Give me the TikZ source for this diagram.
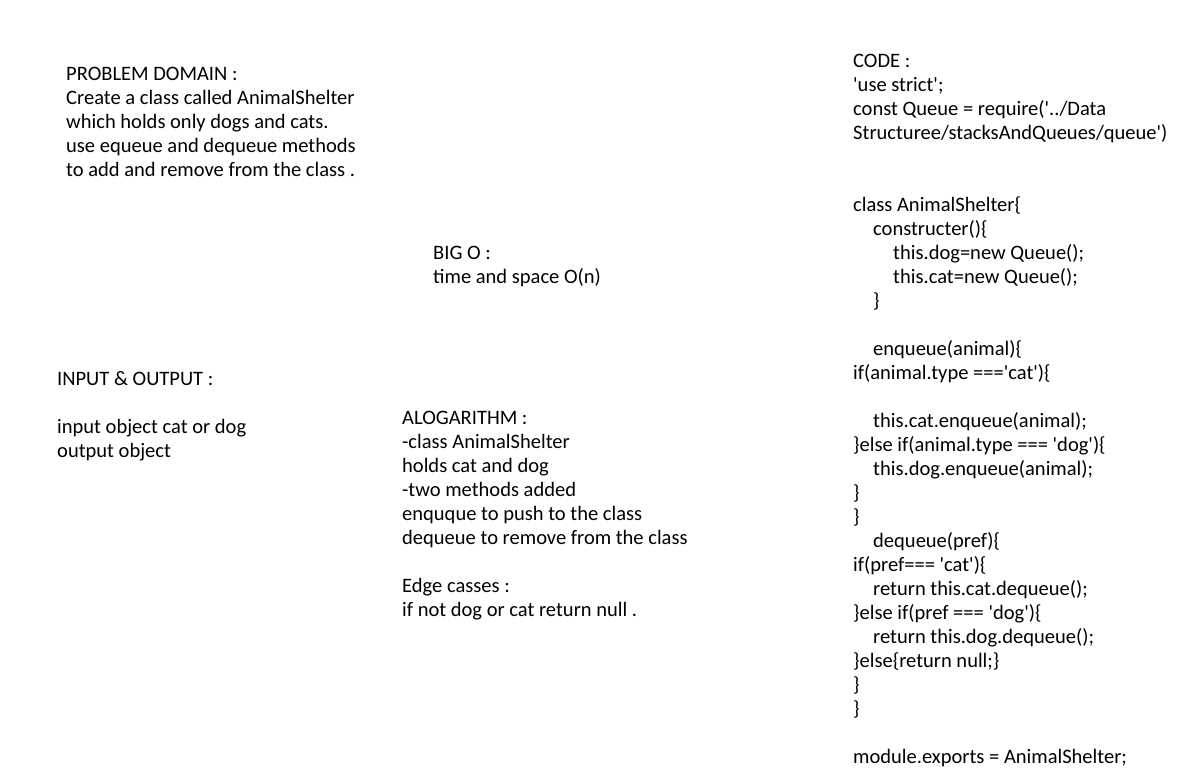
\documentclass[tikz,border=0pt]{standalone}
\usepackage{fontspec}
\setmainfont{Carlito}[Ligatures=TeXOff]
\newcommand{\ind}{\hspace*{20bp}}

\begin{document}
\begin{tikzpicture}[x=1bp,y=-1bp]
\tikzset{textblock/.style={anchor=north west,inner sep=0pt,align=left,
  font=\fontsize{20.6}{24.1}\selectfont}}
\useasboundingbox (0,0) rectangle (1191,776);
%problem domain
\node[textblock] (problem) at (66,63) {\strut PROBLEM DOMAIN :\\
Create a class called AnimalShelter\\
which holds only dogs and cats.\\
use equeue and dequeue methods\\
to add and remove from the class .};
%big o
\node[textblock] (bigo) at (433,242) {\strut BIG O :\\
time and space O(n)};
%input output
\node[textblock] (inout) at (57,368) {\strut INPUT \& OUTPUT :\\
\strut\\
input object cat or dog\\
output object};
%algorithm
\node[textblock] (algo) at (402,407) {\strut ALOGARITHM :\\
-class AnimalShelter\\
holds cat and dog\\
-two methods added\\
enquque to push to the class\\
dequeue to remove from the class\\
\strut\\
Edge casses :\\
if not dog or cat return null .};
%code
\node[textblock] (code) at (853,50) {\strut CODE :\\
'use strict';\\
const Queue = require('../Data\\
Structuree/stacksAndQueues/queue')\\
\strut\\
\strut\\
class AnimalShelter\{\\
\ind constructer()\{\\
\ind\ind this.dog=new Queue();\\
\ind\ind this.cat=new Queue();\\
\ind \}\\
\strut\\
\ind enqueue(animal)\{\\
if(animal.type ==='cat')\{\\
\strut\\
\ind this.cat.enqueue(animal);\\
\}else if(animal.type === 'dog')\{\\
\ind this.dog.enqueue(animal);\\
\}\\
\}\\
\ind dequeue(pref)\{\\
if(pref=== 'cat')\{\\
\ind return this.cat.dequeue();\\
\}else if(pref === 'dog')\{\\
\ind return this.dog.dequeue();\\
\}else\{return null;\}\\
\}\\
\}\\
\strut\\
module.exports = AnimalShelter;};
\end{tikzpicture}
\end{document}
